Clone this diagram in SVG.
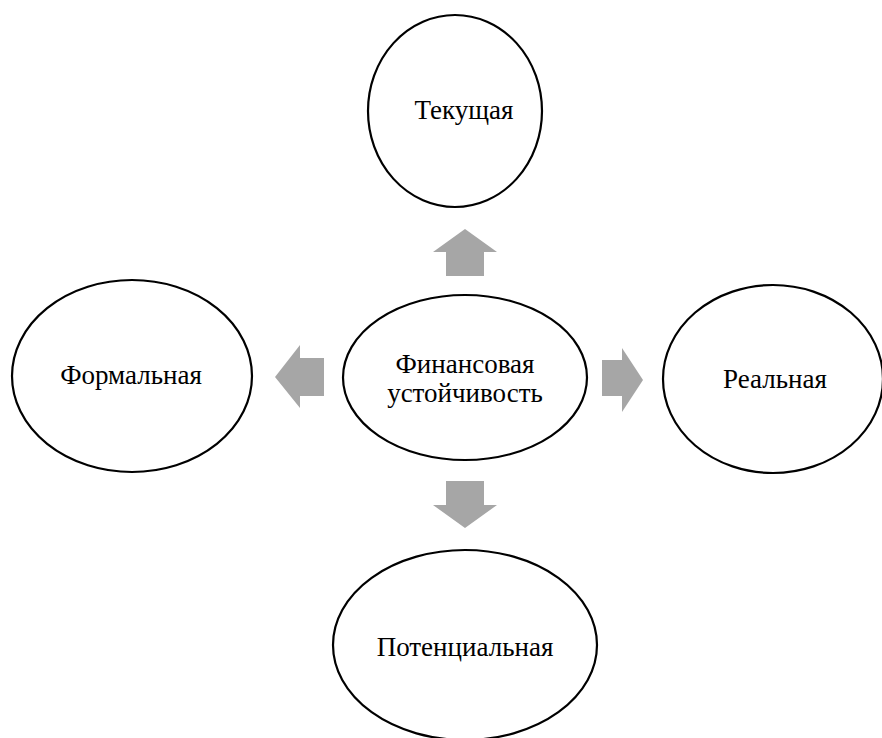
<svg xmlns="http://www.w3.org/2000/svg" width="882" height="738" viewBox="0 0 882 738">
<style>
.node{fill:#fff;stroke:#000;stroke-width:2.2}
.lbl{font-family:"Liberation Serif","Times New Roman",serif;font-size:27px;fill:#000;text-anchor:middle}
.arr{fill:#a6a6a6;stroke:none}
</style>
<rect width="882" height="738" fill="#fff"/>
<g id="connectors">
<polygon class="arr" points="465,229 497,252 484,252 484,276 446,276 446,252 433,252"/>
<polygon class="arr" points="275,377 300,345 300,358 324,358 324,396 300,396 300,408"/>
<polygon class="arr" points="643,380 622,348 622,360 602,360 602,396 622,396 622,412"/>
<polygon class="arr" points="465,528 433,505 446,505 446,481 484,481 484,505 497,505"/>
</g>
<g id="center">
<ellipse class="node" cx="465" cy="377.5" rx="122" ry="82.5"/>
<text class="lbl" x="465" y="373">Финансовая</text>
<text class="lbl" x="465" y="402">устойчивость</text>
</g>
<g id="top">
<ellipse class="node" cx="455" cy="111" rx="87" ry="96"/>
<text class="lbl" x="464" y="119">Текущая</text>
</g>
<g id="left">
<ellipse class="node" cx="132" cy="376" rx="120" ry="96"/>
<text class="lbl" x="131" y="384">Формальная</text>
</g>
<g id="right">
<ellipse class="node" cx="773" cy="379" rx="110" ry="94"/>
<text class="lbl" x="775" y="388">Реальная</text>
</g>
<g id="bottom">
<ellipse class="node" cx="465" cy="645" rx="132" ry="95"/>
<text class="lbl" x="465" y="656">Потенциальная</text>
</g>
</svg>
